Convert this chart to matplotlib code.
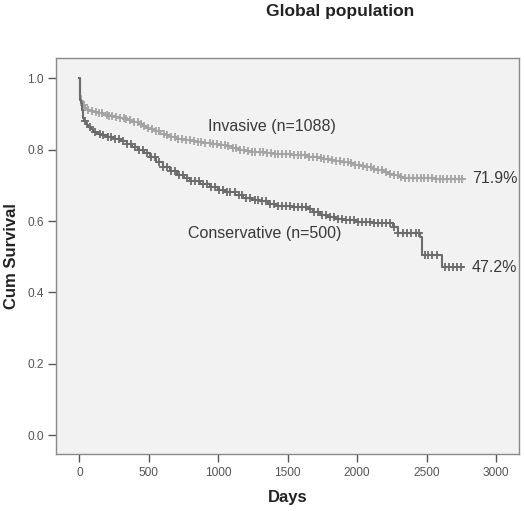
import numpy as np
import matplotlib
matplotlib.use("Agg")
import matplotlib.pyplot as plt

plt.rcParams['font.family'] = ['Liberation Sans', 'DejaVu Sans']

# Kaplan-Meier step knots (day, cumulative survival)
inv_days = [0, 3, 8, 15, 25, 40, 60, 80, 100, 130, 170, 210, 250, 290, 320, 350, 380, 420,
            450, 480, 510, 545, 580, 615, 653, 700, 750, 800, 850, 900, 940, 1000, 1050,
            1100, 1150, 1190, 1229, 1290, 1350, 1400, 1450, 1520, 1590, 1650, 1712, 1760,
            1800, 1840, 1880, 1948, 1985, 2020, 2060, 2100, 2140, 2186, 2220, 2260, 2295,
            2330, 2560, 2762]
inv_surv = [1.0, 0.97, 0.95, 0.935, 0.925, 0.917, 0.912, 0.908, 0.905, 0.902, 0.898, 0.895,
            0.892, 0.889, 0.886, 0.882, 0.878, 0.872, 0.867, 0.862, 0.857, 0.851, 0.845,
            0.840, 0.835, 0.830, 0.826, 0.824, 0.822, 0.819, 0.816, 0.813, 0.810, 0.805,
            0.800, 0.797, 0.794, 0.792, 0.790, 0.788, 0.787, 0.786, 0.784, 0.780, 0.777,
            0.773, 0.770, 0.767, 0.765, 0.762, 0.758, 0.755, 0.751, 0.747, 0.743, 0.738,
            0.733, 0.728, 0.724, 0.720, 0.719, 0.719]

con_days = [0, 3, 8, 12, 18, 27, 36, 45, 55, 63, 80, 100, 125, 150, 200, 250, 300, 343, 380,
            420, 465, 510, 555, 600, 650, 703, 750, 800, 870, 940, 1000, 1050, 1120, 1180,
            1240, 1300, 1360, 1422, 1520, 1638, 1682, 1730, 1780, 1840, 1898, 2000, 2114,
            2258, 2294, 2452, 2466, 2611, 2762]
con_surv = [1.0, 0.96, 0.94, 0.93, 0.91, 0.89, 0.88, 0.874, 0.868, 0.864, 0.857, 0.85,
            0.845, 0.841, 0.836, 0.83, 0.823, 0.815, 0.808, 0.80, 0.79, 0.78, 0.766, 0.752,
            0.74, 0.728, 0.72, 0.712, 0.703, 0.694, 0.687, 0.68, 0.672, 0.664, 0.66, 0.656,
            0.649, 0.643, 0.64, 0.634, 0.624, 0.617, 0.612, 0.607, 0.603, 0.598, 0.594,
            0.584, 0.566, 0.556, 0.505, 0.472, 0.472]

# censored observations (days)
inv_cens = [35, 62, 90, 118, 141, 166, 197, 214, 238, 262, 291, 318, 337, 366, 392, 419, 447,
            468, 497, 523, 549, 577, 608, 631, 662, 688, 713, 742, 771, 797, 828, 851, 879,
            906, 938, 962, 991, 1017, 1046, 1072, 1103, 1127, 1158, 1184, 1211, 1242, 1268,
            1297, 1322, 1351, 1378, 1406, 1433, 1461, 1488, 1516, 1545, 1571, 1598, 1626,
            1654, 1681, 1709, 1737, 1764, 1792, 1821, 1848, 1876, 1903, 1932, 1958, 1987,
            2013, 2042, 2068, 2097, 2124, 2151, 2179, 2207, 2235, 2262, 2291, 2318, 2346,
            2373, 2401, 2428, 2456, 2483, 2511, 2538, 2566, 2593, 2621, 2648, 2676, 2703,
            2731, 2758]
con_cens = [40, 78, 112, 146, 171, 203, 228, 259, 287, 311, 344, 372, 398, 431, 459, 487,
            518, 546, 574, 603, 633, 661, 689, 718, 746, 776, 803, 832, 861, 889, 917, 946,
            974, 1003, 1031, 1062, 1088, 1117, 1146, 1174, 1203, 1231, 1262, 1289, 1318,
            1347, 1376, 1404, 1433, 1461, 1490, 1519, 1548, 1576, 1605, 1633, 1662, 1691,
            1719, 1748, 1777, 1806, 1834, 1863, 1892, 1921, 1949, 1978, 2007, 2036, 2064,
            2093, 2122, 2151, 2180, 2208, 2237, 2266, 2296, 2330, 2362, 2391, 2420, 2447,
            2488, 2512, 2540, 2575, 2632, 2660, 2690, 2718, 2748]

groups = [
    ("Invasive (n=1088)", inv_days, inv_surv, inv_cens, "#a4a4a4", "71.9%"),
    ("Conservative (n=500)", con_days, con_surv, con_cens, "#6c6c6c", "47.2%"),
]

fig = plt.figure(figsize=(5.24, 5.11), dpi=100)
fig.patch.set_facecolor("white")
ax = fig.add_axes([56/524, 1-454/511, (519-56)/524, (454-58.3)/511])
ax.set_facecolor("#f2f2f2")

for name, d, s, c, col, last in groups:
    d = np.array(d)
    s = np.array(s)
    ax.plot(d, s, drawstyle="steps-post", color=col, lw=1.5)
    idx = np.searchsorted(d, c, side="right") - 1
    ax.plot(c, s[idx], linestyle="none", marker="+", ms=6, mew=1.3, color=col)

ax.text(927, 0.866, "Invasive (n=1088)", fontsize=11.5, color="#3a3a3a", va="center")
ax.text(782, 0.566, "Conservative (n=500)", fontsize=11.5, color="#3a3a3a", va="center")
ax.text(2827, 0.718, "71.9%", fontsize=11.5, color="#3a3a3a", va="center")
ax.text(2827, 0.471, "47.2%", fontsize=11.5, color="#3a3a3a", va="center")

ax.set_xlim(-168, 3165)
ax.set_ylim(-0.053, 1.056)
ax.set_xticks([0, 500, 1000, 1500, 2000, 2500, 3000])
ax.set_yticks([0.0, 0.2, 0.4, 0.6, 0.8, 1.0])
ax.set_yticklabels(["0.0", "0.2", "0.4", "0.6", "0.8", "1.0"])
ax.tick_params(direction="out", length=6, width=1, color="#555555",
               labelsize=8.6, labelcolor="#555555", pad=3)
for sp in ax.spines.values():
    sp.set_color("#8a8a8a")
    sp.set_linewidth(1)

ax.set_xlabel("Days", fontsize=12, fontweight="bold", color="#222222", labelpad=8)
ax.set_ylabel("Cum Survival", fontsize=12, fontweight="bold", color="#222222", labelpad=6)
fig.text(340/524, 1-11/511, "Global population", fontsize=12.5, fontweight="bold",
         color="#222222", ha="center", va="center")

fig.savefig("out.png", dpi=100)
